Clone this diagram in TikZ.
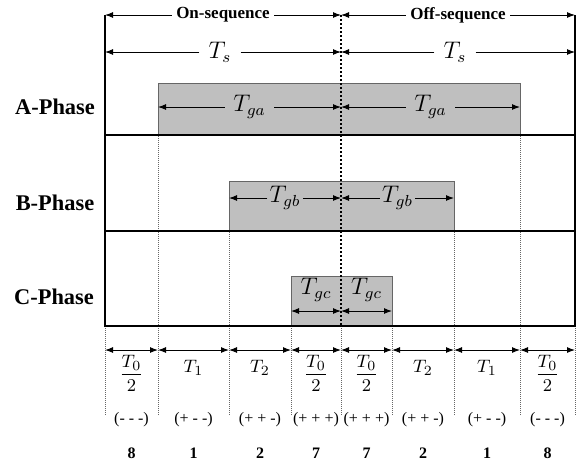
\documentclass[tikz,border=0pt]{standalone}
\usepackage{amsmath}
\usepackage{fontspec}
\setmainfont{Liberation Serif}
\usetikzlibrary{arrows.meta}

\begin{document}
\begin{tikzpicture}[x=0.5pt, y=-0.5pt,
  frame/.style={line width=1pt},
  bar/.style={fill=black!25, draw=black!60, line width=0.5pt},
  guide/.style={draw=black!60, line width=0.5pt, dash pattern=on 0.5pt off 0.5pt},
  axis/.style={line width=1pt, dash pattern=on 1pt off 1pt},
  ray/.style={-{Latex[length=4pt,width=3pt]}, line width=0.5pt},
  dim/.style={{Latex[length=4pt,width=3pt]}-{Latex[length=4pt,width=3pt]}, line width=0.5pt},
  phase/.style={font=\fontsize{11.2}{13}\selectfont\bfseries},
  seq/.style={font=\fontsize{8.5}{10}\selectfont\bfseries, inner sep=2pt},
  lab/.style={font=\fontsize{11.5}{13}\selectfont, inner sep=3pt},
  term/.style={font=\fontsize{9.5}{11}\selectfont, inner sep=2pt},
  code/.style={font=\fontsize{8}{10}\selectfont, inner sep=1pt},
  num/.style={font=\fontsize{8}{10}\selectfont\bfseries}
]
  \useasboundingbox (0,0) rectangle (577,461);

  \foreach \x [count=\i from 0] in {105,158,229,291,341,392,454,520,575} {
    \coordinate (t\i) at (\x,15);
    \coordinate (c\i) at (\x,326);
    \coordinate (b\i) at (\x,350);
    \coordinate (e\i) at (\x,415);
  }

  \filldraw[bar] (158,83) rectangle (520,135);
  \filldraw[bar] (229,181) rectangle (454,231);
  \filldraw[bar] (291,276) rectangle (392,326);

  \draw[guide] (e1) -- (e1 |- 0,135);
  \draw[guide] (e7) -- (e7 |- 0,135);
  \draw[guide] (e2) -- (e2 |- 0,231);
  \draw[guide] (e6) -- (e6 |- 0,231);
  \foreach \i in {0,3,4,5,8}
    \draw[guide] (c\i) -- (e\i);

  \draw[frame] (t0) -- (c0) -- (c8) -- (t8);
  \draw[frame] (t0 |- 0,135) -- (t8 |- 0,135);
  \draw[frame] (t0 |- 0,231) -- (t8 |- 0,231);
  \draw[axis] (t4) -- (c4);

  \node[seq] (on) at (223,15) {On-sequence};
  \node[seq] (off) at (458,15) {Off-sequence};
  \draw[ray] (on) -- (t0);
  \draw[ray] (on) -- (t4);
  \draw[ray] (off) -- (t4);
  \draw[ray] (off) -- (t8);

  \node[lab, inner sep=4.5pt] (tsa) at (220,52) {$T_s$};
  \node[lab, inner sep=4.5pt] (tsb) at (455,52) {$T_s$};
  \draw[ray] (tsa) -- (tsa -| t0);
  \draw[ray] (tsa) -- (tsa -| t4);
  \draw[ray] (tsb) -- (tsb -| t4);
  \draw[ray] (tsb) -- (tsb -| t8);

  \node[phase] (pa) at (55,107) {A-Phase};
  \node[phase] (pb) at (55,203) {B-Phase};
  \node[phase] (pc) at (54,297) {C-Phase};

  \node[lab, inner sep=4pt] (gaa) at (249.5,107) {$T_{ga}$};
  \node[lab, inner sep=4pt] (gab) at (430.5,107) {$T_{ga}$};
  \draw[ray] (gaa) -- (gaa -| t1);
  \draw[ray] (gaa) -- (gaa -| t4);
  \draw[ray] (gab) -- (gab -| t4);
  \draw[ray] (gab) -- (gab -| t7);

  \node[lab, inner sep=1pt] (gba) at (285,198) {$T_{gb}$};
  \node[lab, inner sep=1pt] (gbb) at (397.5,198) {$T_{gb}$};
  \draw[ray] (gba) -- (gba -| t2);
  \draw[ray] (gba) -- (gba -| t4);
  \draw[ray] (gbb) -- (gbb -| t4);
  \draw[ray] (gbb) -- (gbb -| t6);

  \node[lab] (gca) at (316,290) {$T_{gc}$};
  \node[lab] (gcb) at (366.5,290) {$T_{gc}$};
  \coordinate (gc) at (0,311);
  \draw[dim] (gc -| t3) -- (gc -| t4);
  \draw[dim] (gc -| t4) -- (gc -| t5);

  \foreach \i [count=\j] in {0,...,7}
    \draw[dim] (b\i) -- (b\j);

  \foreach \x/\y/\t/\s/\n [count=\i] in {
      131.5/351/{$\dfrac{T_0}{2}$}/{(- - -)}/8,
      193.5/356/{$T_1$}/{(+ - -)}/1,
      260/356/{$T_2$}/{(+ + -)}/2,
      316/351/{$\dfrac{T_0}{2}$}/{(+ + +)}/7,
      366.5/351/{$\dfrac{T_0}{2}$}/{(+ + +)}/7,
      423/356/{$T_2$}/{(+ + -)}/2,
      487/356/{$T_1$}/{(+ - -)}/1,
      547.5/351/{$\dfrac{T_0}{2}$}/{(- - -)}/8} {
    \node[term, anchor=north] (w\i) at (\x,\y) {\t};
    \node[code] (s\i) at (\x,420) {\s};
    \node[num] (n\i) at (\x,453) {\n};
  }
\end{tikzpicture}
\end{document}
